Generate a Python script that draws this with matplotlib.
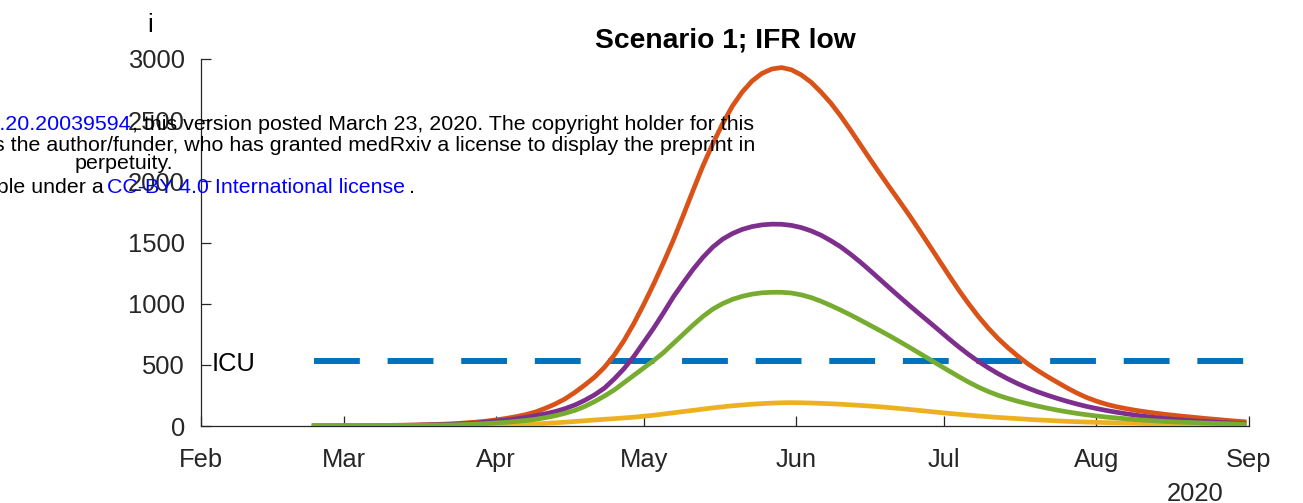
import numpy as np
import matplotlib
matplotlib.use("Agg")
import matplotlib.pyplot as plt

plt.rcParams['font.family'] = ['Liberation Sans', 'DejaVu Sans']
plt.rcParams['lines.scale_dashes'] = False

# ---- data (days since 2020-02-01) ----
days = [23, 28, 33, 38, 43, 48, 52, 56, 58] + list(range(60, 213, 2))

orange = [1, 2, 3, 5, 8, 13, 20, 32, 40,
          50, 62, 76, 93, 115, 145, 180, 222, 275, 335,
          400, 480, 580, 700, 840, 995, 1160, 1335, 1520, 1720,
          1925, 2125, 2305, 2470, 2615, 2730, 2820, 2882, 2918, 2930,
          2912, 2870, 2810, 2730, 2640, 2535, 2420, 2300, 2180, 2063,
          1948, 1835, 1720, 1600, 1478, 1355, 1232, 1112, 1000, 895,
          800, 715, 640, 572, 510, 455, 405, 358, 312, 270,
          233, 203, 178, 158, 142, 128, 116, 105, 95, 86,
          78, 70, 62, 55, 48, 41, 35]
purple = [1, 1, 2, 4, 6, 10, 15, 24, 32,
          40, 48, 58, 70, 84, 100, 118, 142, 172, 210,
          255, 310, 385, 470, 570, 685, 800, 925, 1055, 1170,
          1280, 1378, 1462, 1527, 1573, 1607, 1630, 1644, 1650, 1649,
          1640, 1622, 1595, 1560, 1515, 1465, 1405, 1340, 1270, 1198,
          1126, 1055, 985, 917, 850, 782, 713, 647, 585, 528,
          476, 428, 385, 346, 311, 280, 252, 226, 202, 180,
          160, 143, 127, 113, 100, 88, 78, 69, 61, 54,
          48, 42, 37, 32, 28, 24, 20]
green = [1, 1, 2, 3, 4, 7, 10, 16, 20,
         25, 30, 37, 45, 55, 68, 84, 104, 128, 160,
         200, 245, 295, 355, 415, 475, 535, 600, 675, 750,
         825, 895, 955, 1000, 1035, 1060, 1078, 1089, 1093, 1093,
         1087, 1072, 1050, 1020, 985, 948, 908, 866, 823, 780,
         736, 690, 643, 595, 547, 499, 451, 404, 359, 318,
         282, 251, 225, 202, 182, 163, 146, 130, 116, 103,
         92, 82, 73, 66, 59, 52, 47, 42, 37, 33,
         30, 27, 24, 21, 19, 17, 15]
yellow = [0, 0, 1, 1, 2, 3, 4, 6, 7,
          8, 10, 12, 14, 17, 21, 26, 31, 37, 43,
          49, 55, 60, 66, 72, 80, 88, 98, 108, 118,
          128, 138, 148, 157, 165, 172, 178, 183, 187, 190,
          191, 190, 188, 185, 182, 178, 173, 168, 163, 157,
          150, 143, 135, 127, 119, 111, 103, 96, 89, 82,
          76, 70, 65, 60, 55, 50, 46, 42, 38, 35,
          32, 30, 28, 26, 24, 22, 20, 18, 16, 14,
          13, 11, 10, 8, 7, 6, 5]
icu_capacity = 530

month_ticks = ['2020-02-01', '2020-03-01', '2020-04-01', '2020-05-01', '2020-06-01',
               '2020-07-01', '2020-08-01', '2020-09-01']
month_labels = ['Feb', 'Mar', 'Apr', 'May', 'Jun', 'Jul', 'Aug', 'Sep']
y_ticks = [0, 500, 1000, 1500, 2000, 2500, 3000]

dates = np.datetime64('2020-02-01') + np.array(days).astype('timedelta64[D]')

W, H = 1303, 503
fig = plt.figure(figsize=(W / 100, H / 100), dpi=100)
ax = fig.add_axes([201 / W, 77 / H, 1048 / W, 367 / H])

AX_COL = '#262626'
ax.plot([dates[0], dates[-1]], [icu_capacity, icu_capacity], color='#0072BD',
        lw=4.3, dashes=(33, 20), solid_capstyle='butt', dash_capstyle='butt', zorder=1)
ax.plot(dates, orange, color='#D95319', lw=3.4, zorder=2)
ax.plot(dates, purple, color='#7E2F8E', lw=3.4, zorder=3)
ax.plot(dates, yellow, color='#EDB120', lw=3.4, zorder=4)
ax.plot(dates, green, color='#77AC30', lw=3.4, zorder=5)

ax.set_xlim(np.datetime64('2020-02-01'), np.datetime64('2020-09-01'))
ax.set_ylim(0, 3000)
ax.set_xticks([np.datetime64(d) for d in month_ticks])
ax.set_xticklabels(month_labels)
ax.set_yticks(y_ticks)
ax.set_yticklabels([str(v) for v in y_ticks])

for s in ['top', 'right']:
    ax.spines[s].set_visible(False)
for s in ['left', 'bottom']:
    ax.spines[s].set_color(AX_COL)
    ax.spines[s].set_linewidth(0.9)
ax.tick_params(axis='both', direction='in', length=7, width=0.9, color=AX_COL,
               labelcolor=AX_COL, labelsize=18.4)
ax.tick_params(axis='y', pad=11.5)
ax.tick_params(axis='x', pad=16)

ax.set_title('Scenario 1; IFR low', fontsize=20.3, fontweight='bold', pad=8.6)

ax.text((212 - 201) / 1048, icu_capacity, 'ICU', transform=ax.get_yaxis_transform(),
        fontsize=18.4, va='center_baseline', ha='left', color='black')

def fx(px):
    return px / W

def fy(py):
    return 1 - py / H

fig.text(fx(150), fy(32), 'i', fontsize=18.4, ha='center', va='baseline', color='black')
fig.text(fx(1195), fy(501), '2020', fontsize=18.4, ha='center', va='baseline', color=AX_COL)

# medRxiv watermark overlay
FS = 15.4
fig.text(fx(131), fy(130), 'medRxiv preprint doi: https://doi.org/10.1101/2020.03.20.20039594',
         fontsize=FS, color='#0000FF', ha='right', va='baseline')
fig.text(fx(132), fy(130), ', this version posted March 23, 2020. The copyright holder for this',
         fontsize=FS, color='black', ha='left', va='baseline')
fig.text(fx(755), fy(151), 'preprint (which was not certified by peer review) is the author/funder, '
         'who has granted medRxiv a license to display the preprint in',
         fontsize=FS, color='black', ha='right', va='baseline')
fig.text(fx(124), fy(169), 'perpetuity.', fontsize=FS, color='black', ha='center', va='baseline')
fig.text(fx(104), fy(193), 'It is made available under a', fontsize=FS, color='black',
         ha='right', va='baseline')
fig.text(fx(107), fy(193), 'CC-BY 4.0 International license', fontsize=FS, color='#0000FF',
         ha='left', va='baseline')
fig.text(fx(409), fy(193), '.', fontsize=FS, color='black', ha='left', va='baseline')

fig.savefig('out.png', dpi=100)
